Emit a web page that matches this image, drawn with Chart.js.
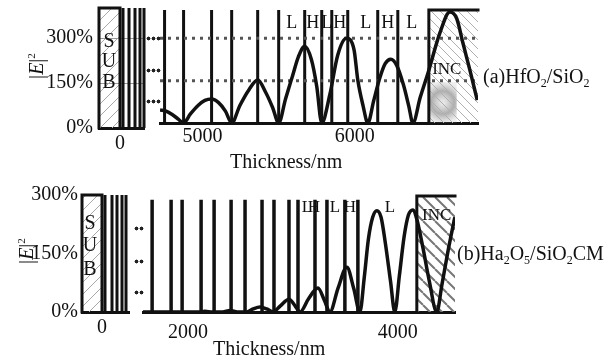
<!DOCTYPE html>
<html>
<head>
  <meta charset="UTF-8" />
  <title>|E|^2 in the coating stack</title>
  <script src="https://cdn.jsdelivr.net/npm/chart.js"></script>
  <style>
    body { margin: 0; background: #fff; }
    #fig { position: relative; width: 614px; height: 360px; font-family: 'Liberation Serif', serif; color: #111; }
    .pane { position: absolute; }
    .txt { position: absolute; font-size: 20px; line-height: 20px; white-space: nowrap; }
    .txt sub { font-size: 0.6em; vertical-align: -0.3em; line-height: 0; }
    .ylab { position: absolute; font-size: 20px; line-height: 20px; white-space: nowrap;
            transform: translate(-50%, -50%) rotate(-90deg); }
    .ylab sup { font-size: 0.55em; vertical-align: 0.7em; line-height: 0; }
    .brk { position: absolute; height: 5px;
           background: radial-gradient(circle, #222 1.7px, transparent 2.2px) 0 0 / 5px 5px; }
  </style>
</head>
<body>
<div id="fig">
  <div class="pane" style="left:0;top:0;width:150px;height:160px"><canvas id="subA"></canvas></div>
  <div class="pane" style="left:150px;top:0;width:340px;height:175px"><canvas id="mainA"></canvas></div>
  <div class="pane" style="left:0;top:185px;width:135px;height:160px"><canvas id="subB"></canvas></div>
  <div class="pane" style="left:135px;top:185px;width:340px;height:170px"><canvas id="mainB"></canvas></div>

  <div class="ylab" style="left:36px;top:66px">|<i>E</i>|<sup>2</sup></div>
  <div class="ylab" style="left:26px;top:251px">|<i>E</i>|<sup>2</sup></div>
  <div class="txt" style="left:230px;top:151px">Thickness/nm</div>
  <div class="txt" style="left:213px;top:338px">Thickness/nm</div>
  <div class="txt" style="left:483px;top:66px">(a)HfO<sub>2</sub>/SiO<sub>2</sub></div>
  <div class="txt" style="left:457px;top:243px">(b)Ha<sub>2</sub>O<sub>5</sub>/SiO<sub>2</sub>CM</div>

  <!-- axis break marks -->
  <div class="brk" style="left:146px;top:36px;width:15px"></div>
  <div class="brk" style="left:146px;top:68px;width:15px"></div>
  <div class="brk" style="left:146px;top:99px;width:15px"></div>
  <div class="brk" style="left:134px;top:226px;width:10px"></div>
  <div class="brk" style="left:134px;top:259px;width:10px"></div>
  <div class="brk" style="left:134px;top:290px;width:10px"></div>
</div>

<script>
// ---- panel (a) HfO2/SiO2 ----
const aSubLayers = [30, 90, 150, 200, 240];
const aLayers = [4750, 4875, 5059, 5191, 5362, 5500, 5671, 5783, 5849, 5954, 6151, 6283];
const aIncFrom = 6487;
const aCurveX = [4720, 4760, 4800, 4840, 4875, 4920, 4970, 5015, 5059, 5105, 5150, 5191,
                 5245, 5305, 5362, 5415, 5460, 5500, 5545, 5590, 5630, 5671, 5715, 5750, 5783,
                 5836, 5888, 5945, 5995, 6020, 6055, 6086, 6125, 6165, 6200, 6237, 6275, 6320,
                 6355, 6382, 6430, 6487, 6559, 6625, 6670, 6711, 6760, 6805];
const aCurveY = [46, 42, 30, 14, 0, 32, 62, 80, 85, 72, 42, 0,
                 62, 118, 152, 108, 55, 0, 85, 165, 235, 272, 225, 130, 0,
                 100, 240, 300, 260, 152, 60, 0, 80, 160, 210, 226, 205, 135,
                 60, 0, 90, 187, 318, 393, 370, 283, 180, 81];
const aRefLevels = [150, 300];
const aNames = ['L', 'H', 'L', 'H', 'L', 'H', 'L'];
const aNameX = [5586, 5724, 5816, 5901, 6072, 6217, 6375];
const aXTicks = [5000, 6000];

// ---- panel (b) Ha2O5/SiO2 CM ----
const bSubLayers = [30, 100, 150, 200, 240];
const bLayers = [1657, 1838, 1943, 2124, 2248, 2410, 2543, 2705, 2819, 2962, 3048,
                 3210, 3324, 3495, 3619];
const bIncFrom = 4181;
const bCurveX = [1570, 2100, 2160, 2230, 2330, 2400, 2470, 2560, 2620, 2686, 2750, 2810,
                 2880, 2962, 3020, 3067, 3150, 3238, 3300, 3352, 3430, 3514, 3580, 3638,
                 3680, 3720, 3760, 3800, 3840, 3880, 3930, 3971, 4015, 4060, 4100, 4143,
                 4181, 4240, 4300, 4371, 4420, 4480, 4543];
const bCurveY = [0, 0, 2, 0, 0, 4, 0, 0, 8, 13, 8, 0,
                 16, 33, 16, 0, 35, 62, 30, 0, 62, 116, 60, 0,
                 90, 190, 245, 262, 245, 180, 80, 0, 95, 195, 250, 264,
                 240, 165, 80, 0, 70, 160, 245];
const bNames = ['L', 'H', 'L', 'H', 'L'];
const bNameX = [3133, 3200, 3400, 3543, 3924];
const bXTicks = [2000, 4000];

const yTicks = [0, 150, 300];

const INK = '#111';
const FONT = { family: 'Liberation Serif', size: 20 };

function hatch(ctx, h) {
  const c = document.createElement('canvas');
  const n = h.gap;
  c.width = c.height = n;
  const g = c.getContext('2d');
  g.strokeStyle = h.color;
  g.lineWidth = h.width;
  g.beginPath();
  for (const k of [-n, 0, n]) {
    if (h.dir === '/') { g.moveTo(k, n); g.lineTo(k + n, 0); }
    else { g.moveTo(k, 0); g.lineTo(k + n, n); }
  }
  g.stroke();
  return ctx.createPattern(c, 'repeat');
}

// hatched SUB / INC boxes and in-plot labels, placed through the chart scales
function decor(regions, texts) {
  return {
    id: 'decor',
    beforeDatasetsDraw(chart) {
      const { ctx, scales: { x, y } } = chart;
      regions.forEach(r => {
        const x0 = x.getPixelForValue(r.from), x1 = x.getPixelForValue(r.to);
        const y0 = y.getPixelForValue(r.top), yb = y.getPixelForValue(0);
        ctx.save();
        if (r.shade) {
          const sx = x.getPixelForValue(r.shade.to), sy = y.getPixelForValue(r.shade.top);
          const gr = ctx.createRadialGradient((x0 + sx) / 2, (sy + yb) / 2, 2, (x0 + sx) / 2, (sy + yb) / 2, (sx - x0) * 0.75);
          gr.addColorStop(0, 'rgba(150,150,150,0.25)');
          gr.addColorStop(0.5, r.shade.color);
          gr.addColorStop(1, 'rgba(150,150,150,0.15)');
          ctx.fillStyle = gr;
          ctx.fillRect(x0, sy, sx - x0, yb - sy);
        }
        ctx.fillStyle = hatch(ctx, r.hatch);
        ctx.fillRect(x0, y0, x1 - x0, yb - y0);
        ctx.restore();
      });
    },
    afterDatasetsDraw(chart) {
      const { ctx, scales: { x, y } } = chart;
      ctx.save();
      regions.forEach(r => {
        const x0 = x.getPixelForValue(r.from), x1 = x.getPixelForValue(r.to);
        const y0 = y.getPixelForValue(r.top), yb = y.getPixelForValue(0);
        ctx.strokeStyle = INK;
        ctx.lineWidth = 3;
        ctx.lineCap = 'square';
        ctx.beginPath();
        if (r.edges.includes('l')) { ctx.moveTo(x0, yb); ctx.lineTo(x0, y0); }
        if (r.edges.includes('t')) { ctx.moveTo(x0, y0); ctx.lineTo(x1, y0); }
        if (r.edges.includes('r')) { ctx.moveTo(x1, y0); ctx.lineTo(x1, yb); }
        ctx.stroke();
      });
      ctx.fillStyle = INK;
      ctx.textAlign = 'center';
      ctx.textBaseline = 'middle';
      texts.forEach(t => {
        ctx.font = (t.size || 18) + "px 'Liberation Serif'";
        ctx.fillText(t.t, x.getPixelForValue(t.x), y.getPixelForValue(t.y));
      });
      ctx.restore();
    }
  };
}

const linesAt = (xs, top) => xs.flatMap(v => [{ x: v, y: 0 }, { x: v, y: top }, { x: v, y: null }]);
const points = (xs, ys) => xs.map((v, i) => ({ x: v, y: ys[i] }));

function layerSet(xs, top, w) {
  return { data: linesAt(xs, top), borderColor: INK, borderWidth: w || 3, spanGaps: false, clip: false };
}
function curveSet(xs, ys) {
  return { data: points(xs, ys), borderColor: INK, borderWidth: 3.5, tension: 0.4,
           cubicInterpolationMode: 'monotone' };
}

function makeChart(id, o) {
  return new Chart(document.getElementById(id), {
    type: 'line',
    data: { datasets: o.datasets },
    options: {
      responsive: true,
      maintainAspectRatio: false,
      animation: false,
      devicePixelRatio: 1,
      events: [],
      layout: { padding: o.pad },
      elements: { point: { radius: 0 } },
      plugins: { legend: { display: false }, tooltip: { enabled: false } },
      scales: {
        x: {
          type: 'linear', min: o.xMin, max: o.xMax,
          afterBuildTicks: s => { s.ticks = o.xTicks.map(v => ({ value: v })); },
          afterFit: s => { s.height = o.xH; s.paddingLeft = 0; s.paddingRight = 0; },
          ticks: { font: FONT, color: INK, padding: o.xPad, maxRotation: 0, autoSkip: false,
                   callback: v => String(v) },
          grid: { display: false, drawTicks: false },
          border: { display: true, color: INK, width: 3 }
        },
        y: {
          display: !!o.yW, min: 0, max: o.yMax,
          afterBuildTicks: s => { s.ticks = yTicks.map(v => ({ value: v })); },
          afterFit: s => { s.width = o.yW || 0; s.paddingTop = 0; s.paddingBottom = 0; },
          ticks: { font: FONT, color: INK, padding: o.yPad || 0, callback: v => v + '%' },
          grid: { display: !!o.yGrid, drawTicks: false, lineWidth: 1,
                  color: c => c.tick && c.tick.value ? '#9a9a9a' : 'rgba(0,0,0,0)' },
          border: { display: false }
        }
      }
    },
    plugins: [decor(o.regions, o.texts)]
  });
}

const subHatch = { color: '#a8a8a8', width: 1, gap: 12, dir: '/' };

// (a) substrate inset
makeChart('subA', {
  xMin: -210, xMax: 240, yMax: 400, xTicks: [0],
  pad: { top: 8, right: 6, left: 0, bottom: 0 }, xH: 32, xPad: 4, yW: 99, yPad: 6, yGrid: true,
  datasets: [layerSet(aSubLayers, 400)],
  regions: [{ from: -210, to: 0, top: 400, edges: 'ltr', hatch: subHatch }],
  texts: [{ t: 'S', x: -110, y: 287, size: 20 }, { t: 'U', x: -110, y: 220, size: 20 },
          { t: 'B', x: -110, y: 150, size: 20 }]
});

// (a) main stack
makeChart('mainA', {
  xMin: 4720, xMax: 6810, yMax: 400, xTicks: aXTicks,
  pad: { top: 10, right: 12, left: 10, bottom: 0 }, xH: 52, xPad: 2,
  datasets: [
    curveSet(aCurveX, aCurveY),
    ...aRefLevels.map(v => ({ data: [{ x: 4720, y: v }, { x: 6810, y: v }], borderColor: '#555',
                               borderWidth: 3, borderDash: [3, 5] })),
    layerSet(aLayers, 400)
  ],
  regions: [{ from: aIncFrom, to: 6810, top: 400, edges: 'lt',
              hatch: { color: '#b0b0b0', width: 1, gap: 9, dir: '\\' },
              shade: { to: 6670, top: 145, color: 'rgba(120,120,120,0.6)' } }],
  texts: aNames.map((t, i) => ({ t, x: aNameX[i], y: 354, size: 18 }))
          .concat([{ t: 'INC', x: 6605, y: 188, size: 17 }])
});

// (b) substrate inset
makeChart('subB', {
  xMin: -200, xMax: 270, yMax: 300, xTicks: [0],
  pad: { top: 10, right: 6, left: 0, bottom: 0 }, xH: 33, xPad: 4, yW: 82, yPad: 4,
  datasets: [layerSet(bSubLayers, 300)],
  regions: [{ from: -200, to: 0, top: 300, edges: 'ltr', hatch: subHatch }],
  texts: [{ t: 'S', x: -120, y: 226, size: 20 }, { t: 'U', x: -120, y: 169, size: 20 },
          { t: 'B', x: -120, y: 108, size: 20 }]
});

// (b) main stack
makeChart('mainB', {
  xMin: 1570, xMax: 4545, yMax: 300, xTicks: bXTicks,
  pad: { top: 11, right: 20, left: 8, bottom: 0 }, xH: 43, xPad: 9,
  datasets: [curveSet(bCurveX, bCurveY), layerSet(bLayers, 290, 3.5)],
  regions: [{ from: bIncFrom, to: 4545, top: 300, edges: 'lt',
              hatch: { color: '#777', width: 2, gap: 12, dir: '\\' } }],
  texts: bNames.map((t, i) => ({ t, x: bNameX[i], y: 269, size: 17 }))
          .concat([{ t: 'INC', x: 4371, y: 250, size: 17 }])
});
</script>
</body>
</html>
